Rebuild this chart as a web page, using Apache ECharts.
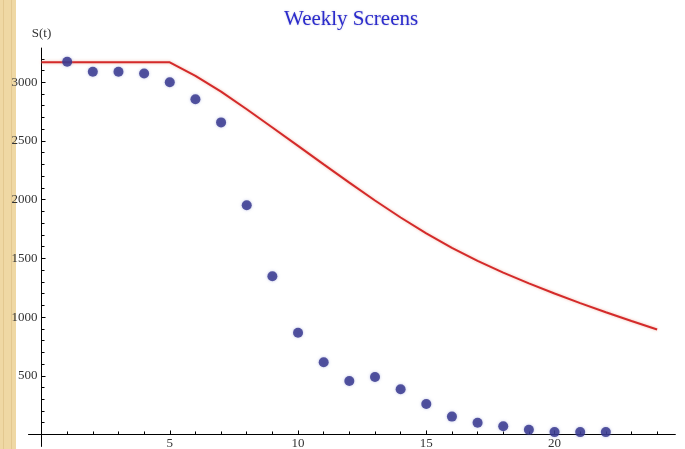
<!DOCTYPE html>
<html>
<head>
<meta charset="utf-8">
<script src="https://cdn.jsdelivr.net/npm/echarts@6/dist/echarts.min.js"></script>
<style>html,body{margin:0;padding:0;background:#fff}#c{width:685px;height:449px}</style>
</head>
<body>
<div id="c"></div>
<script>
// Observed weekly screens
const weeks = [1,2,3,4,5,6,7,8,9,10,11,12,13,14,15,16,17,18,19,20,21,22];
const screens = [3175,3090,3090,3075,3000,2855,2658,1952,1347,866,615,455,490,385,260,152,100,70,40,20,20,20];
// Model curve S(t)
const curveT = [0,1,2,3,4,5,6,7,8,9,10,11,12,13,14,15,16,17,18,19,20,21,22,23,24];
const curveS = [3170,3170,3170,3170,3170,3170,3055,2920,2770,2615,2458,2300,2145,1993,1848,1713,1590,1478,1379,1287,1201,1119,1041,966,894];
// Ticks / labels
const xMajor = [5,10,15,20];
const xMinor = [1,2,3,4,6,7,8,9,11,12,13,14,16,17,18,19,21,22,23,24];
const yMajor = [500,1000,1500,2000,2500,3000];
const yMinor = [];
for (let v = 100; v <= 3200; v += 100) { if (v % 500 !== 0) yMinor.push(v); }

const chart = echarts.init(document.getElementById('c'));
const serif = '"Liberation Serif", "DejaVu Serif", serif';
const lineAxis = {
  type: 'value',
  gridIndex: 0,
  splitLine: { show: false },
  axisLine: { show: true, onZero: true, onZeroAxisIndex: 0, lineStyle: { color: '#000', width: 1 } },
  axisLabel: { show: false }
};
const labelAxis = {
  type: 'value',
  gridIndex: 1,
  splitLine: { show: false },
  axisLine: { show: false, onZero: false },
  axisTick: { show: false }
};
chart.setOption({
  animation: false,
  backgroundColor: '#ffffff',
  title: {
    text: 'Weekly Screens',
    left: 279, top: 4,
    textStyle: { fontFamily: serif, fontSize: 21, fontWeight: 'normal', color: '#2b2bcc',
      textShadowColor: 'rgba(150,150,200,0.6)', textShadowBlur: 2 }
  },
  graphic: [
    { type: 'rect', left: 0, top: 0, shape: { width: 16, height: 449 }, style: { fill: '#efd8a4' }, z: -10 },
    { type: 'rect', left: 3, top: 0, shape: { width: 1, height: 449 }, style: { fill: '#e3c890' }, z: -9 },
    { type: 'rect', left: 11, top: 0, shape: { width: 1, height: 449 }, style: { fill: '#e3c890' }, z: -9 }
  ],
  grid: [
    { left: 28.7, right: 9.9, top: 48.2, bottom: 2.8, containLabel: false, outerBoundsMode: 'none' },
    { left: 41.5, right: 9.9, top: 48.2, bottom: 14.5, containLabel: false, outerBoundsMode: 'none' }
  ],
  xAxis: [
    Object.assign({}, lineAxis, {
      min: -0.5, max: 24.7, position: 'bottom',
      axisTick: { show: true, inside: true, length: 4, customValues: xMajor, lineStyle: { color: '#000' } }
    }),
    Object.assign({}, lineAxis, {
      min: -0.5, max: 24.7, position: 'bottom',
      axisTick: { show: true, inside: true, length: 3, customValues: xMinor, lineStyle: { color: '#000' } }
    }),
    Object.assign({}, labelAxis, {
      min: 0, max: 24.7, position: 'bottom',
      axisLabel: { show: true, customValues: xMajor, margin: 3, fontFamily: serif, fontSize: 13, color: '#333',
        formatter: v => String(v) }
    })
  ],
  yAxis: [
    Object.assign({}, lineAxis, {
      min: -100, max: 3290, position: 'left',
      name: 'S(t)', nameLocation: 'end', nameGap: 8,
      nameTextStyle: { fontFamily: serif, fontSize: 13, color: '#333', align: 'center' },
      axisTick: { show: true, inside: true, length: 4, customValues: yMajor, lineStyle: { color: '#000' } }
    }),
    Object.assign({}, lineAxis, {
      min: -100, max: 3290, position: 'left',
      axisTick: { show: true, inside: true, length: 3, customValues: yMinor, lineStyle: { color: '#000' } }
    }),
    Object.assign({}, labelAxis, {
      min: 0, max: 3290, position: 'left',
      axisLabel: { show: true, customValues: yMajor, margin: 4, fontFamily: serif, fontSize: 13, color: '#333',
        formatter: v => String(v) }
    })
  ],
  series: [
    {
      type: 'line',
      xAxisIndex: 0, yAxisIndex: 0,
      data: curveT.map((t, i) => [t, curveS[i]]),
      showSymbol: false,
      smooth: false,
      lineStyle: { color: '#d42a2a', width: 2, shadowColor: 'rgba(235,170,150,0.8)', shadowBlur: 3 },
      z: 3
    },
    {
      type: 'scatter',
      xAxisIndex: 0, yAxisIndex: 0,
      data: weeks.map((w, i) => [w, screens[i]]),
      symbolSize: 10,
      itemStyle: { color: '#30308a', shadowColor: 'rgba(140,150,210,0.7)', shadowBlur: 3 },
      z: 4
    }
  ]
});
</script>
</body>
</html>
